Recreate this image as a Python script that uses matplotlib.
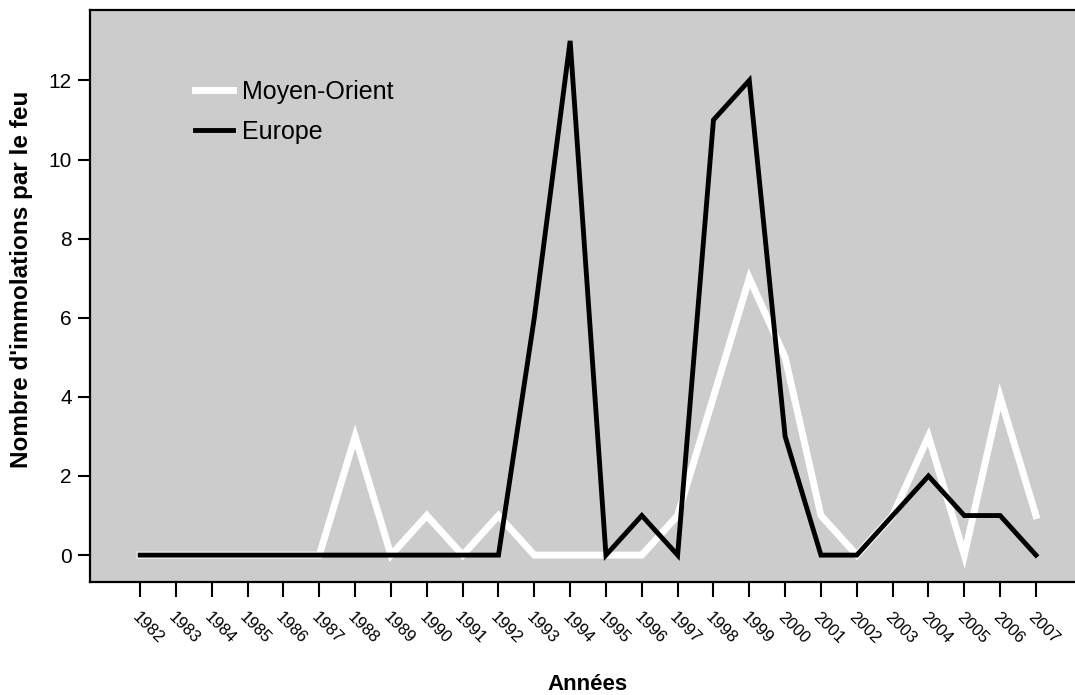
import matplotlib
matplotlib.use("Agg")
import matplotlib.pyplot as plt
import numpy as np

plt.rcParams["font.family"] = ["Liberation Sans", "DejaVu Sans"]

years = list(range(1982, 2008))
moyen_orient = [0, 0, 0, 0, 0, 0, 3, 0, 1, 0, 1, 0, 0,
                0, 0, 1, 4, 7, 5, 1, 0, 1, 3, 0, 4, 1]
europe = [0, 0, 0, 0, 0, 0, 0, 0, 0, 0, 0, 6, 13,
          0, 1, 0, 11, 12, 3, 0, 0, 1, 2, 1, 1, 0]
y_ticks = [0, 2, 4, 6, 8, 10, 12]

W, H = 1075, 695
fig = plt.figure(figsize=(W / 100, H / 100), dpi=100)
ax = fig.add_axes([90 / W, 1 - 582 / H, 1 - 90 / W, 572 / H])
ax.set_facecolor("#cccccc")

ax.plot(years, moyen_orient, color="white", linewidth=5.0, label="Moyen-Orient",
        solid_joinstyle="miter")
ax.plot(years, europe, color="black", linewidth=3.5, label="Europe",
        solid_joinstyle="miter")

ax.set_xlim(1980.6, 2008.09)
ax.set_ylim(-0.68, 13.78)

ax.set_xticks(years)
ax.set_xticklabels([str(y) for y in years], rotation=-45, ha="left", va="top",
                   rotation_mode="anchor", fontsize=12)
ax.set_yticks(y_ticks)
ax.set_yticklabels([str(v) for v in y_ticks], fontsize=15)
ax.tick_params(axis="x", length=11, width=1.5, pad=9)
ax.tick_params(axis="y", length=9, width=1.5, pad=4)

for side in ["left", "bottom", "top"]:
    ax.spines[side].set_linewidth(1.6)
ax.spines["right"].set_visible(False)

# axis titles placed in pixels
fig.text(587 / W, 1 - 685 / H, "Années", fontsize=16, fontweight="bold",
         ha="center", va="center")
fig.text(22 / W, 1 - 279 / H, "Nombre d'immolations par le feu", fontsize=17.5,
         fontweight="bold", rotation=90, ha="center", va="center")

leg = ax.legend(loc="upper left", bbox_to_anchor=((195 - 90) / 985, (582 - 80) / 572),
                frameon=False, fontsize=18, handlelength=1.5, handletextpad=0.4,
                labelspacing=0.65, borderpad=0, borderaxespad=0)

fig.savefig("out.png", dpi=100)
plt.close(fig)
